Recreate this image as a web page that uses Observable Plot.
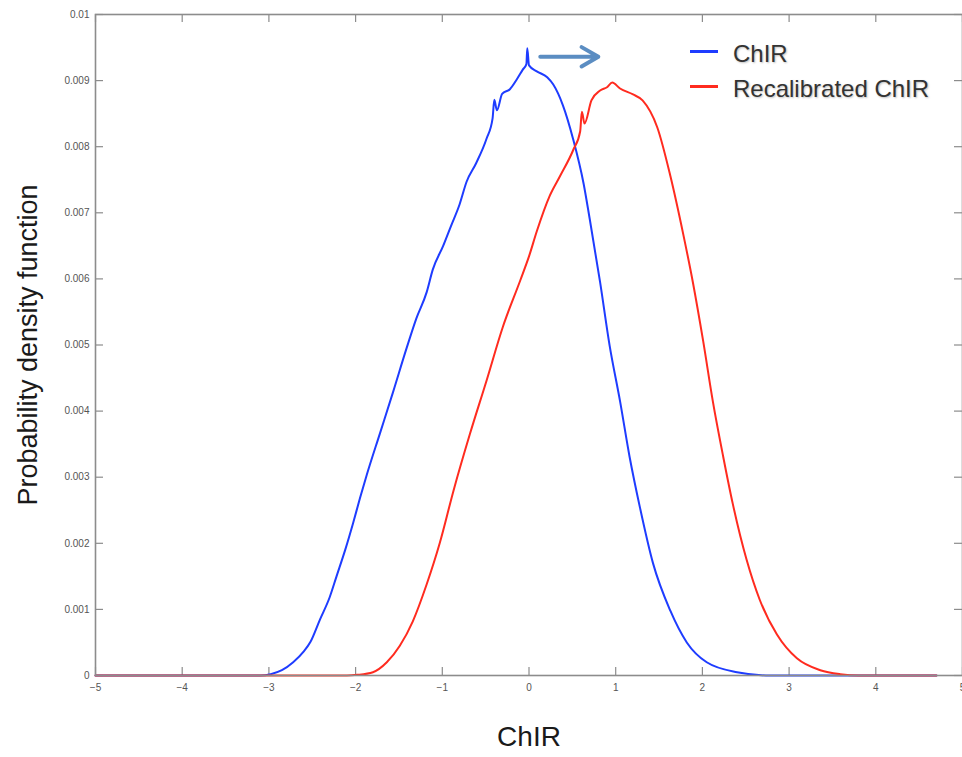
<!DOCTYPE html>
<html>
<head>
<meta charset="utf-8">
<script src="https://cdn.jsdelivr.net/npm/d3@7"></script>
<script src="https://cdn.jsdelivr.net/npm/@observablehq/plot@0.6"></script>
<style>
  html, body { margin: 0; padding: 0; background: #fff; }
  #wrap { position: relative; width: 962px; height: 757px; overflow: hidden; }
  #legend { position: absolute; left: 690px; top: 36px; font-family: "Liberation Sans", Arial, sans-serif; font-size: 24px; color: #333; text-shadow: 1px 1px 2px rgba(0,0,0,0.25); }
  .item { display: flex; align-items: center; height: 35px; }
  .sw { width: 28px; height: 3px; margin-right: 15px; margin-top: -4px; }
</style>
</head>
<body>
<div id="wrap"><div id="legend"></div></div>
<script>
// ---- data ----
const seriesNames = ["ChIR", "Recalibrated ChIR"];
const seriesColors = ["#1e3cff", "#ff2b1f"];

const chirX = [-5, -3.1, -2.98, -2.85, -2.72, -2.6, -2.52, -2.41, -2.3, -2.22, -2.12, -2.03, -1.95, -1.87, -1.72, -1.57, -1.41, -1.3, -1.18, -1.11, -0.99, -0.9, -0.8, -0.72, -0.61, -0.49, -0.42, -0.4, -0.37, -0.31, -0.22, -0.14, -0.07, -0.03, -0.02, 0.0, 0.09, 0.21, 0.28, 0.39, 0.51, 0.63, 0.7, 0.82, 0.93, 1.05, 1.16, 1.28, 1.43, 1.63, 1.82, 2.05, 2.4, 2.78, 4.7];
const chirY = [0, 0, 0.00002, 0.00008, 0.0002, 0.00036, 0.00051, 0.00085, 0.00118, 0.0015, 0.0019, 0.0023, 0.00268, 0.00304, 0.00366, 0.00428, 0.00496, 0.0054, 0.0058, 0.00614, 0.0065, 0.0068, 0.00713, 0.00747, 0.00775, 0.00812, 0.00843, 0.00871, 0.00855, 0.0088, 0.00887, 0.00902, 0.00917, 0.00925, 0.00949, 0.00923, 0.00914, 0.00905, 0.00894, 0.00863, 0.00811, 0.00744, 0.00691, 0.00595, 0.00499, 0.00415, 0.00331, 0.00254, 0.0017, 0.00098, 0.0005, 0.0002, 0.00005, 0, 0];

const recalX = [-5, -2.1, -1.98, -1.8, -1.64, -1.49, -1.34, -1.18, -1.03, -0.87, -0.68, -0.49, -0.3, -0.1, 0.0, 0.09, 0.24, 0.36, 0.51, 0.59, 0.61, 0.64, 0.72, 0.82, 0.9, 0.96, 1.05, 1.2, 1.31, 1.48, 1.63, 1.78, 1.89, 2.01, 2.12, 2.24, 2.35, 2.51, 2.66, 2.86, 3.09, 3.36, 3.59, 3.8, 4.7];
const recalY = [0, 0, 0.00001, 0.00005, 0.0002, 0.00045, 0.00082, 0.00138, 0.002, 0.0028, 0.00366, 0.00446, 0.00528, 0.00598, 0.00634, 0.00672, 0.00726, 0.00756, 0.00795, 0.00823, 0.00853, 0.00835, 0.0087, 0.00885, 0.0089, 0.00897, 0.00888, 0.00879, 0.0087, 0.00829, 0.00756, 0.00667, 0.00595, 0.00505, 0.00415, 0.00331, 0.0026, 0.00175, 0.00115, 0.00062, 0.00026, 0.00008, 0.00002, 0, 0];

const xTicks = [-5, -4, -3, -2, -1, 0, 1, 2, 3, 4, 5];
const xTickLabels = ["\u22125", "\u22124", "\u22123", "\u22122", "\u22121", "0", "1", "2", "3", "4", "5"];
const yTicks = [0, 0.001, 0.002, 0.003, 0.004, 0.005, 0.006, 0.007, 0.008, 0.009, 0.01];
const yTickLabels = ["0", "0.001", "0.002", "0.003", "0.004", "0.005", "0.006", "0.007", "0.008", "0.009", "0.01"];

const xLabel = "ChIR";
const yLabel = "Probability density function";

// annotation arrow (shift of the distribution)
const shiftArrow = [{x1: 0.13, x2: 0.8, y: 0.00936}];

// ---- build ----
const chir = chirX.map((x, i) => ({x, y: chirY[i]}));
const recal = recalX.map((x, i) => ({x, y: recalY[i]}));

const W = 962, H = 757, ML = 95, MR = 0, MT = 14, MB = 82;
const PW = W - ML - MR, PH = H - MT - MB, TL = 8;
const axisGray = "#8c8c8c";

const chart = Plot.plot({
  width: W, height: H,
  marginLeft: ML, marginRight: MR, marginTop: MT, marginBottom: MB,
  x: {domain: [-5, 5]},
  y: {domain: [0, 0.01]},
  style: {fontFamily: "'Liberation Sans', Arial, sans-serif", background: "#fff", overflow: "visible"},
  marks: [
    Plot.axisY(yTicks, {tickSize: 0, tickPadding: 6, fontSize: 10, fill: "#555", label: null,
      tickFormat: d => yTickLabels[yTicks.indexOf(d)]}),
    Plot.axisX(xTicks, {tickSize: 0, tickPadding: 8, fontSize: 10, fill: "#555", label: null,
      tickFormat: d => xTickLabels[xTicks.indexOf(d)]}),
    // inward ticks
    Plot.tickY(yTicks, {y: d => d, stroke: axisGray, strokeWidth: 1.2, insetRight: PW - TL}),
    Plot.tickY(yTicks, {y: d => d, stroke: axisGray, strokeWidth: 1.2, insetLeft: PW - TL}),
    Plot.tickX(xTicks, {x: d => d, stroke: axisGray, strokeWidth: 1.2, insetTop: PH - TL}),
    Plot.tickX(xTicks, {x: d => d, stroke: axisGray, strokeWidth: 1.2, insetBottom: PH - TL}),
    Plot.line(chir, {x: "x", y: "y", stroke: seriesColors[0], strokeWidth: 2, curve: "monotone-x"}),
    Plot.line(recal, {x: "x", y: "y", stroke: seriesColors[1], strokeWidth: 2, curve: "monotone-x"}),
    Plot.frame({stroke: axisGray, strokeWidth: 1.6}),
    Plot.arrow(shiftArrow, {x1: "x1", x2: "x2", y1: "y", y2: "y", stroke: "#5b8dc2",
      strokeWidth: 4, headLength: 16, strokeLinecap: "round"}),
    Plot.text([yLabel], {frameAnchor: "left", textAnchor: "middle", dx: -67, rotate: -90, fontSize: 27, fill: "#1a1a1a", text: d => d}),
    Plot.text([xLabel], {frameAnchor: "bottom", textAnchor: "middle", dy: 70, fontSize: 28, fill: "#1a1a1a", text: d => d})
  ]
});
document.getElementById("wrap").prepend(chart);

const legend = document.getElementById("legend");
seriesNames.forEach((name, i) => {
  const item = document.createElement("div");
  item.className = "item";
  const sw = document.createElement("span");
  sw.className = "sw";
  sw.style.background = seriesColors[i];
  const t = document.createElement("span");
  t.textContent = name;
  item.appendChild(sw);
  item.appendChild(t);
  legend.appendChild(item);
});
</script>
</body>
</html>
